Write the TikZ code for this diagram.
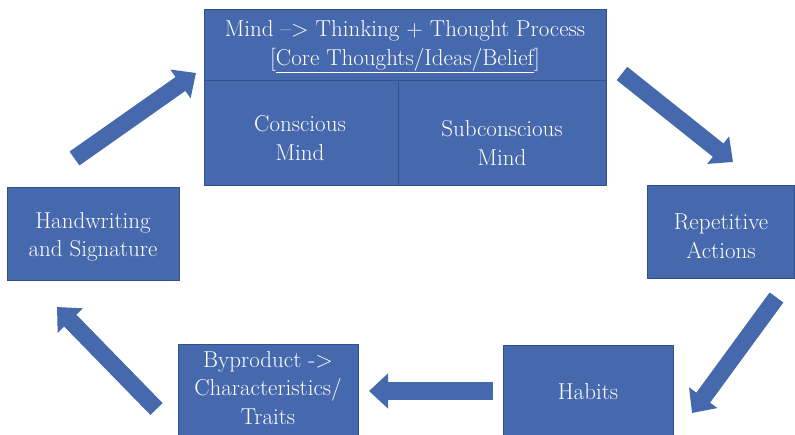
\documentclass[tikz,border=0pt]{standalone}
\usepackage{fontspec}
\usetikzlibrary{arrows.meta}
\definecolor{boxblue}{RGB}{70,104,173}
\definecolor{boxedge}{RGB}{47,82,143}
\begin{document}
\begin{tikzpicture}[x=1pt,y=-1pt,
  box/.style={fill=boxblue,draw=boxedge,line width=0.8pt,inner sep=0pt,anchor=north west},
  txt/.style={text=white,font=\rmfamily\fontsize{23}{28.5}\selectfont\addfontfeature{FakeBold=0.5},align=center,inner sep=0pt},
  blockarrow/.style={draw=boxblue,line width=17pt,-{Triangle[width=34pt,length=19pt]}}]
\useasboundingbox (0,0) rectangle (795,435);
\clip (0,0) rectangle (795,435);
\fill[white] (0,0) rectangle (795,435);
% boxes
\node[box,minimum width=402pt,minimum height=71pt] (head) at (204,9) {};
\node[box,minimum width=194pt,minimum height=105pt] (cons) at (204,80) {};
\node[box,minimum width=208pt,minimum height=105pt] (subc) at (398,80) {};
\node[box,minimum width=172pt,minimum height=93pt] (hand) at (7,187) {};
\node[box,minimum width=147pt,minimum height=93pt] (rep) at (647,185) {};
\node[box,minimum width=170pt,minimum height=100pt] (hab) at (503,345) {};
\node[box,minimum width=180pt,minimum height=100pt] (byp) at (178,344) {};
% texts
\node[txt] (headtxt) at (405,47) {Mind –> Thinking + Thought Process\\{[}\underline{Core Thoughts/Ideas/Belief}{]}};
\node[txt] (constxt) at (300,138) {Conscious\\Mind};
\node[txt] (subctxt) at (502,143) {Subconscious\\Mind};
\node[txt] (handtxt) at (93,237) {Handwriting\\and Signature};
\node[txt] (reptxt) at (721,236) {Repetitive\\Actions};
\node[txt] (habtxt) at (588,392) {Habits};
\node[txt] (byptxt) at (268,388) {Byproduct ->\\Characteristics/\\Traits};
% arrows
\coordinate (a1t) at (74.5,158.5);
\coordinate (a1h) at (196,73);
\coordinate (a2t) at (622,73.5);
\coordinate (a2h) at (733,162);
\coordinate (a3t) at (776.5,297.5);
\coordinate (a3h) at (692,413);
\coordinate (a4t) at (493,391);
\coordinate (a4h) at (369,391);
\coordinate (a5t) at (156.5,409);
\coordinate (a5h) at (57,307);
\draw[blockarrow] (a1t) -- (a1h);
\draw[blockarrow] (a2t) -- (a2h);
\draw[blockarrow] (a3t) -- (a3h);
\draw[blockarrow] (a4t) -- (a4h);
\draw[blockarrow] (a5t) -- (a5h);
\end{tikzpicture}
\end{document}
